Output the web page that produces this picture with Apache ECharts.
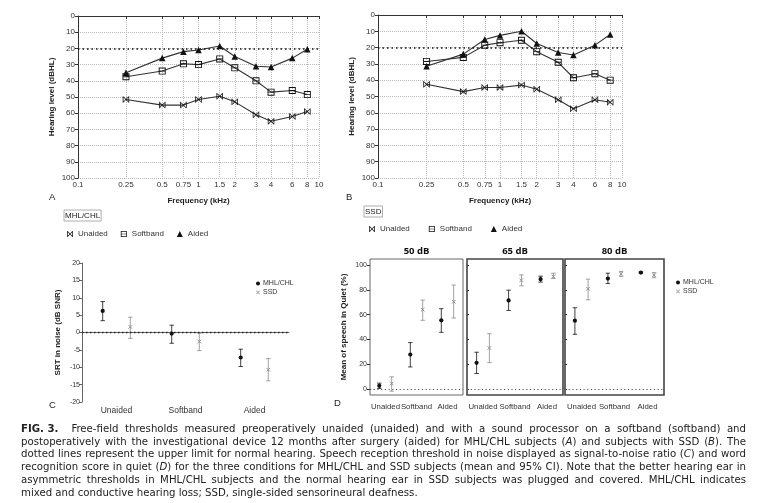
<!DOCTYPE html>
<html><head><meta charset="utf-8">
<script src="https://cdn.jsdelivr.net/npm/echarts@6/dist/echarts.min.js"></script>
<style>html,body{margin:0;padding:0;background:#fff}#c{width:768px;height:503px}</style>
</head><body><div id="c"></div>
<script>
// ---------- data ----------
var freqs = [0.25, 0.5, 0.75, 1, 1.5, 2, 3, 4, 6, 8];
var freqTicks = [0.1, 0.25, 0.5, 0.75, 1, 1.5, 2, 3, 4, 6, 8, 10];
var aUnaided  = [51.5, 55, 55, 51.5, 49.5, 53, 61, 65, 62, 59];
var aSoftband = [37.5, 34, 29.5, 30, 26.5, 32, 40, 47, 46, 48.5];
var aAided    = [35, 26, 22, 21, 18.5, 25, 31, 31.5, 26, 20.5];
var bUnaided  = [42.5, 47, 44.5, 44.5, 43, 45.5, 52, 57.5, 52, 53.5];
var bSoftband = [28.5, 26, 18.5, 17, 15.5, 22.5, 29, 38.5, 36, 40];
var bAided    = [31.5, 24, 15, 12.5, 10, 17.5, 23, 24.5, 18.5, 12];
var normalLimit = 20;

var conditions = ['Unaided', 'Softband', 'Aided'];
var srtMhlMean = [6.2, -0.3, -7.2];
var srtMhlLo   = [3.4, -3.1, -9.8];
var srtMhlHi   = [8.9, 2.1, -4.8];
var srtSsdMean = [1.6, -2.6, -10.7];
var srtSsdLo   = [-1.7, -5.2, -13.9];
var srtSsdHi   = [4.4, -0.2, -7.5];

var levels = ['50 dB', '65 dB', '80 dB'];
var wrs50MhlMean = [2.4, 27.7, 55.4], wrs50MhlLo = [0.3, 17.7, 45.7], wrs50MhlHi = [4.6, 37.4, 64.8];
var wrs50SsdMean = [4.3, 64, 70.4],   wrs50SsdLo = [-1.9, 55.4, 57.3], wrs50SsdHi = [9.7, 71.8, 83.9];
var wrs65MhlMean = [21, 71.5, 88.7],  wrs65MhlLo = [12.4, 63.4, 86.3], wrs65MhlHi = [29.6, 79.8, 91.1];
var wrs65SsdMean = [33, 87.9, 90.9],  wrs65SsdLo = [21.2, 83.3, 89.2], wrs65SsdHi = [44.6, 92.2, 93.5];
var wrs80MhlMean = [55.1, 89.2, 94],  wrs80MhlLo = [44.1, 85.2, 93.5], wrs80MhlHi = [65.6, 93.5, 94.6];
var wrs80SsdMean = [80.9, 93, 91.9],  wrs80SsdLo = [72, 90.9, 89.8],   wrs80SsdHi = [88.7, 94.9, 94];
var wrsTicks = [0, 20, 40, 60, 80, 100];

var captionLines = [
  '{b|FIG. 3.}  Free-field thresholds measured preoperatively unaided (unaided) and with a sound processor on a softband (softband) and',
  'postoperatively with the investigational device 12 months after surgery (aided) for MHL/CHL subjects ({i|A}) and subjects with SSD ({i|B}). The',
  'dotted lines represent the upper limit for normal hearing. Speech reception threshold in noise displayed as signal-to-noise ratio ({i|C}) and word',
  'recognition score in quiet ({i|D}) for the three conditions for MHL/CHL and SSD subjects (mean and 95% CI). Note that the better hearing ear in',
  'asymmetric thresholds in MHL/CHL subjects and the normal hearing ear in SSD subjects was plugged and covered. MHL/CHL indicates',
  'mixed and conductive hearing loss; SSD, single-sided sensorineural deafness.'
];

// ---------- helpers ----------
var FONT = 'Liberation Sans, Arial, sans-serif';
var CAPFONT = '"Liberation Sans Narrow", "DejaVu Sans Condensed", Liberation Sans, sans-serif';
var CAPSIZE = 11.3;
var crossSym = 'path://M0,1L1,0L5,4L9,0L10,1L6,5L10,9L9,10L5,6L1,10L0,9L4,5Z';
var bowSym = 'path://M0,0H1.2V10H0Z M8.8,0H10V10H8.8Z M1,1.8L1.8,1L5,4.2L8.2,1L9,1.8L5.8,5L9,8.2L8.2,9L5,5.8L1.8,9L1,8.2L4.2,5Z';
var boxSym = 'path://M0,0H10V10H0Z M1.3,1.3V8.7H8.7V1.3Z M1.3,4.4H8.7V5.6H1.3Z';

function pairs(xs, ys) { return xs.map(function (x, i) { return [x, ys[i]]; }); }
function errData(m, lo, hi) { return m.map(function (v, i) { return [i, v, lo[i], hi[i]]; }); }

function errorItem(offset, color, marker) {
  return function (params, api) {
    var i = api.value(0);
    var c = api.coord([i, api.value(1)]);
    var lo = api.coord([i, api.value(2)]);
    var hi = api.coord([i, api.value(3)]);
    var bw = api.size([1, 0])[0];
    var x = c[0] + offset * bw;
    var cap = 2.2;
    var s = { stroke: color, lineWidth: 0.8 };
    var ch = [
      { type: 'line', shape: { x1: x, y1: hi[1], x2: x, y2: lo[1] }, style: s },
      { type: 'line', shape: { x1: x - cap, y1: hi[1], x2: x + cap, y2: hi[1] }, style: s },
      { type: 'line', shape: { x1: x - cap, y1: lo[1], x2: x + cap, y2: lo[1] }, style: s }
    ];
    if (marker === 'dot') {
      ch.push({ type: 'circle', shape: { cx: x, cy: c[1], r: 2.1 }, style: { fill: color } });
    } else {
      var d = 1.8, s2 = { stroke: color, lineWidth: 0.9 };
      ch.push({ type: 'line', shape: { x1: x - d, y1: c[1] - d, x2: x + d, y2: c[1] + d }, style: s2 });
      ch.push({ type: 'line', shape: { x1: x - d, y1: c[1] + d, x2: x + d, y2: c[1] - d }, style: s2 });
    }
    return { type: 'group', children: ch };
  };
}

var axisLineS = { lineStyle: { color: '#333', width: 1 } };
var lblS = { fontFamily: FONT, fontSize: 8, color: '#333' };
var nameS = { fontFamily: FONT, fontSize: 8, fontWeight: 'bold', color: '#222' };

function audioX(gi) {
  return {
    type: 'log', logBase: 10, min: 0.1, max: 10, gridIndex: gi,
    name: 'Frequency (kHz)', nameLocation: 'middle', nameGap: 19, nameTextStyle: nameS,
    axisLine: axisLineS, axisTick: { length: 3, customValues: freqTicks, lineStyle: { color: '#333' } },
    axisLabel: Object.assign({ margin: 3, customValues: freqTicks, formatter: function (v) { return String(+(+v).toPrecision(3)); } }, lblS),
    splitLine: { show: true, lineStyle: { color: '#bbb', type: 'dotted', width: 1 } },
    minorTick: { show: false }, minorSplitLine: { show: false }
  };
}
function audioY(gi) {
  return {
    type: 'value', gridIndex: gi, inverse: true, min: 0, max: 100, interval: 10,
    name: 'Hearing level (dBHL)', nameLocation: 'middle', nameGap: 22, nameRotate: 90, nameTextStyle: nameS,
    axisLine: { show: true, lineStyle: { color: '#333' } }, axisTick: { show: true, length: 3, lineStyle: { color: '#333' } },
    axisLabel: Object.assign({ margin: 3 }, lblS),
    splitLine: { show: true, lineStyle: { color: '#bbb', type: 'dotted', width: 1 } }
  };
}
function audioSeries(gi, name, data, sym, size) {
  return {
    type: 'line', name: name, xAxisIndex: gi, yAxisIndex: gi, data: pairs(freqs, data),
    symbol: sym, symbolSize: size, showSymbol: true, animation: false,
    lineStyle: { color: '#333', width: 1.1 }, itemStyle: { color: '#111' }, z: 3
  };
}
function refLine() {
  return { silent: true, symbol: 'none', label: { show: false },
    lineStyle: { color: '#111', type: [1.5, 3], width: 1.6 }, data: [{ yAxis: normalLimit }] };
}

// ---------- option ----------
var grids = [
  { left: 78, top: 16, width: 241, height: 162 },   // A
  { left: 378, top: 15, width: 244, height: 163 },  // B
  { left: 82, top: 263, width: 207, height: 139 },  // C
  { left: 370, top: 259, width: 93, height: 136, show: true, borderColor: '#666', borderWidth: 1 },   // D 50
  { left: 467, top: 259, width: 96, height: 136, show: true, borderColor: '#444', borderWidth: 1.6 }, // D 65
  { left: 565, top: 259, width: 99, height: 136, show: true, borderColor: '#444', borderWidth: 1.6 }  // D 80
];

var xAxes = [audioX(0), audioX(1),
  { type: 'category', gridIndex: 2, data: conditions, axisLine: { lineStyle: { color: '#666' } },
    axisTick: { alignWithLabel: true, length: 3, lineStyle: { color: '#666' } },
    axisLabel: Object.assign({ margin: 4, interval: 0 }, lblS, { fontSize: 8.5 }) }
];
var yAxes = [audioY(0), audioY(1),
  { type: 'value', gridIndex: 2, min: -20, max: 20, interval: 5,
    name: 'SRT in noise (dB SNR)', nameLocation: 'middle', nameGap: 20, nameRotate: 90, nameTextStyle: nameS,
    axisLine: { show: true, lineStyle: { color: '#666' } }, axisTick: { show: true, length: 3, lineStyle: { color: '#666' } },
    axisLabel: Object.assign({ margin: 2 }, lblS, { fontSize: 7 }), splitLine: { show: false } }
];
for (var k = 0; k < 3; k++) {
  xAxes.push({ type: 'category', gridIndex: 3 + k, data: conditions, axisLine: { show: false },
    axisTick: { show: false }, axisLabel: Object.assign({ margin: 8, interval: 0 }, lblS, { fontSize: 7.8 }) });
  yAxes.push({ type: 'value', gridIndex: 3 + k, min: -5, max: 105,
    name: k === 0 ? 'Mean of speech in Quiet (%)' : '', nameLocation: 'middle', nameGap: 22, nameRotate: 90, nameTextStyle: nameS,
    axisLine: { show: false },
    axisTick: { show: true, length: k === 0 ? 3 : -2, customValues: wrsTicks, lineStyle: { color: '#333' } },
    axisLabel: Object.assign({ show: k === 0, margin: 3, customValues: wrsTicks }, lblS, { fontSize: 7 }),
    splitLine: { show: false } });
}

var series = [
  audioSeries(0, 'Unaided', aUnaided, bowSym, 6.5),
  audioSeries(0, 'Softband', aSoftband, boxSym, 7),
  Object.assign(audioSeries(0, 'Aided', aAided, 'triangle', 6.5), { markLine: refLine() }),
  audioSeries(1, 'Unaided', bUnaided, bowSym, 6.5),
  audioSeries(1, 'Softband', bSoftband, boxSym, 7),
  Object.assign(audioSeries(1, 'Aided', bAided, 'triangle', 6.5), { markLine: refLine() })
];
function errSeries(gi, name, data, off, color, marker, withRef) {
  var s = { type: 'custom', name: name, xAxisIndex: gi, yAxisIndex: gi, data: data,
    renderItem: errorItem(off, color, marker), itemStyle: { color: color }, animation: false, z: 4,
    encode: { x: 0, y: [1, 2, 3] } };
  if (withRef) s.markLine = { silent: true, symbol: 'none', label: { show: false },
    lineStyle: { color: '#222', type: [1.5, 2.5], width: 1.3 }, data: [{ yAxis: 0 }] };
  return s;
}
series.push(errSeries(2, 'MHL/CHL', errData(srtMhlMean, srtMhlLo, srtMhlHi), -0.2, '#111', 'dot', true));
series.push(errSeries(2, 'SSD', errData(srtSsdMean, srtSsdLo, srtSsdHi), 0.2, '#8a8a8a', 'x', false));
var wrsSets = [
  [wrs50MhlMean, wrs50MhlLo, wrs50MhlHi, wrs50SsdMean, wrs50SsdLo, wrs50SsdHi],
  [wrs65MhlMean, wrs65MhlLo, wrs65MhlHi, wrs65SsdMean, wrs65SsdLo, wrs65SsdHi],
  [wrs80MhlMean, wrs80MhlLo, wrs80MhlHi, wrs80SsdMean, wrs80SsdLo, wrs80SsdHi]
];
wrsSets.forEach(function (w, k) {
  var s1 = errSeries(3 + k, 'MHL/CHL', errData(w[0], w[1], w[2]), -0.2, '#111', 'dot', true);
  s1.markLine.lineStyle = { color: '#555', type: [1.2, 2.5], width: 1 };
  series.push(s1);
  series.push(errSeries(3 + k, 'SSD', errData(w[3], w[4], w[5]), 0.2, '#8a8a8a', 'x', false));
});

var legTxt = { fontFamily: FONT, fontSize: 8, color: '#333' };
var legends = [
  { left: 62, top: 225, itemWidth: 6, itemHeight: 6, itemGap: 13, textStyle: legTxt, selectedMode: false,
    data: [{ name: 'Unaided', icon: bowSym }, { name: 'Softband', icon: boxSym }, { name: 'Aided', icon: 'triangle' }] },
  { left: 364, top: 220, itemWidth: 6, itemHeight: 6, itemGap: 19, textStyle: legTxt, selectedMode: false,
    data: [{ name: 'Unaided', icon: bowSym }, { name: 'Softband', icon: boxSym }, { name: 'Aided', icon: 'triangle' }] },
  { left: 251, top: 275, orient: 'vertical', itemWidth: 4, itemHeight: 4, itemGap: 2, selectedMode: false,
    textStyle: { fontFamily: FONT, fontSize: 7, color: '#333', padding: [0, 0, 0, -2] },
    data: [{ name: 'MHL/CHL', icon: 'circle', itemStyle: { color: '#111' } }, { name: 'SSD', icon: crossSym, itemStyle: { color: '#8a8a8a' } }] },
  { left: 671, top: 274, orient: 'vertical', itemWidth: 4, itemHeight: 4, itemGap: 2, selectedMode: false,
    textStyle: { fontFamily: FONT, fontSize: 7, color: '#333', padding: [0, 0, 0, -2] },
    data: [{ name: 'MHL/CHL', icon: 'circle', itemStyle: { color: '#111' } }, { name: 'SSD', icon: crossSym, itemStyle: { color: '#8a8a8a' } }] }
];

var graphics = [
  { type: 'text', x: 49, y: 192, style: { text: 'A', font: '9.5px ' + FONT, fill: '#222' } },
  { type: 'text', x: 346, y: 192, style: { text: 'B', font: '9.5px ' + FONT, fill: '#222' } },
  { type: 'text', x: 49, y: 400, style: { text: 'C', font: '9.5px ' + FONT, fill: '#222' } },
  { type: 'text', x: 334, y: 398, style: { text: 'D', font: '9.5px ' + FONT, fill: '#222' } },
  { type: 'text', x: 64, y: 210, style: { text: 'MHL/CHL', font: '8px ' + FONT, fill: '#222',
      borderColor: '#999', borderWidth: 0.8, padding: [2, 1, 1, 1] } },
  { type: 'text', x: 364, y: 206, style: { text: 'SSD', font: '8px ' + FONT, fill: '#222',
      borderColor: '#999', borderWidth: 0.8, padding: [2, 1, 1, 1] } }
];
levels.forEach(function (lv, k) {
  var g = grids[3 + k];
  graphics.push({ type: 'text', x: g.left + g.width / 2, y: 246,
    style: { text: lv, font: 'bold 9.5px "Open Sans", ' + FONT, fill: '#111', align: 'center' } });
});

// caption: justified lines (word spacing computed from measured text widths)
var ctx = document.createElement('canvas').getContext('2d');
function measure(txt, style) { ctx.font = style + ' ' + CAPSIZE + 'px ' + CAPFONT; return ctx.measureText(txt).width; }
var capLeft = 21, capRight = 746;
captionLines.forEach(function (line, li) {
  var parts = line.split(/(\{[bi]\|[^}]*\})/).filter(function (p) { return p.length; });
  var natural = 0, spaces = 0;
  parts.forEach(function (p) {
    var m = p.match(/^\{([bi])\|([^}]*)\}$/);
    if (m) natural += measure(m[2], m[1] === 'b' ? 'bold' : 'italic');
    else { natural += measure(p, 'normal'); spaces += (p.match(/ /g) || []).length; }
  });
  var sw = measure(' ', 'normal');
  var extra = (li < captionLines.length - 1 && spaces) ? (capRight - capLeft - natural) / spaces : 0;
  var text;
  if (extra > 0) {
    text = parts.map(function (p) {
      return /^\{[bi]\|/.test(p) ? p : p.replace(/ /g, '{s| }');
    }).join('');
  } else text = line;
  graphics.push({ type: 'text', x: capLeft, y: 423.5 + li * 12.75,
    style: { text: text, fontFamily: CAPFONT, fontSize: CAPSIZE, fill: '#222',
      rich: {
        b: { fontFamily: CAPFONT, fontSize: CAPSIZE, fontWeight: 'bold', fill: '#222' },
        i: { fontFamily: CAPFONT, fontSize: CAPSIZE, fontStyle: 'italic', fill: '#222' },
        s: { fontFamily: CAPFONT, fontSize: CAPSIZE, width: sw + extra }
      } } });
});

var chart = echarts.init(document.getElementById('c'), null, { renderer: 'canvas' });
chart.setOption({
  backgroundColor: '#fff', animation: false,
  grid: grids, xAxis: xAxes, yAxis: yAxes, series: series, legend: legends, graphic: graphics
});
</script></body></html>
